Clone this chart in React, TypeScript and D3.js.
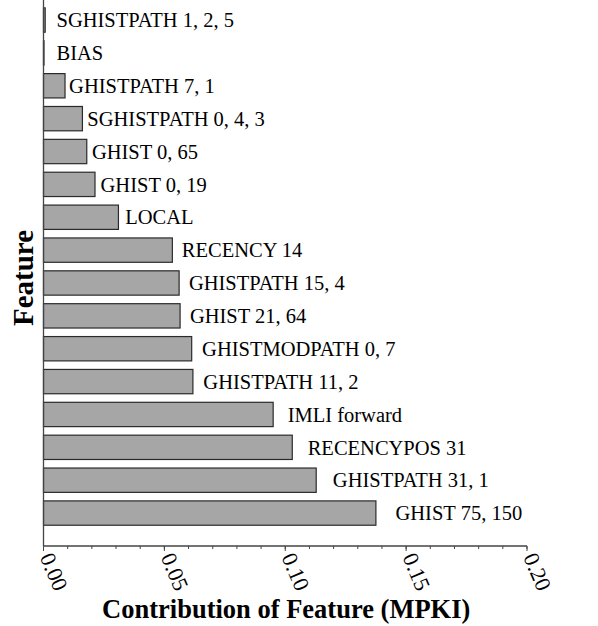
import React, { useEffect, useRef } from 'react';
import * as d3 from 'd3';

const WIDTH = 598;
const HEIGHT = 626;

// top to bottom
const features = [
  'SGHISTPATH 1, 2, 5',
  'BIAS',
  'GHISTPATH 7, 1',
  'SGHISTPATH 0, 4, 3',
  'GHIST 0, 65',
  'GHIST 0, 19',
  'LOCAL',
  'RECENCY 14',
  'GHISTPATH 15, 4',
  'GHIST 21, 64',
  'GHISTMODPATH 0, 7',
  'GHISTPATH 11, 2',
  'IMLI forward',
  'RECENCYPOS 31',
  'GHISTPATH 31, 1',
  'GHIST 75, 150',
];
const mpki = [
  0.0007, 0.0002, 0.0089, 0.0161, 0.0179, 0.0213, 0.031, 0.0533,
  0.0561, 0.0565, 0.0613, 0.0618, 0.095, 0.1029, 0.1128, 0.1375,
];
const majorTicks = [0, 0.05, 0.1, 0.15, 0.2];
const minorTicks = d3.range(0, 0.2001, 0.01);

const FONT = '"Liberation Serif", "Times New Roman", serif';

export default function App() {
  const ref = useRef<SVGSVGElement>(null);

  useEffect(() => {
    if (!ref.current) return;
    const svg = d3.select(ref.current);
    svg.selectAll('*').remove();

    const axisY = 546;
    const x = d3.scaleLinear().domain([0, 0.2]).range([43.5, 527]);
    const y = d3
      .scaleBand<string>()
      .domain(features)
      .range([3.6, 529.5])
      .paddingInner(0.26)
      .paddingOuter(0.13);

    const rows = features.map((f, i) => ({ name: f, value: mpki[i] }));

    // bars
    svg
      .append('g')
      .selectAll('rect')
      .data(rows)
      .enter()
      .append('rect')
      .attr('x', x(0))
      .attr('y', (d) => y(d.name)!)
      .attr('width', (d) => x(d.value) - x(0))
      .attr('height', y.bandwidth())
      .attr('fill', '#a6a6a6')
      .attr('stroke', '#2a2a2a')
      .attr('stroke-width', 1.2);

    // bar labels, a bit further out for the longer bars
    svg
      .append('g')
      .selectAll('text')
      .data(rows)
      .enter()
      .append('text')
      .attr('x', (d) => Math.max(x(d.value * 1.05) + 3, x(0) + 13))
      .attr('y', (d) => y(d.name)! + y.bandwidth() / 2)
      .attr('dy', '0.35em')
      .style('font-family', FONT)
      .style('font-size', '20.5px')
      .style('fill', '#000')
      .text((d) => d.name);

    // axes lines
    svg
      .append('line')
      .attr('x1', x(0))
      .attr('x2', x(0))
      .attr('y1', 0)
      .attr('y2', axisY)
      .attr('stroke', '#444')
      .attr('stroke-width', 1.3);
    svg
      .append('line')
      .attr('x1', x(0))
      .attr('x2', x(0.2))
      .attr('y1', axisY)
      .attr('y2', axisY)
      .attr('stroke', '#444')
      .attr('stroke-width', 1.3);

    // ticks
    svg
      .append('g')
      .selectAll('line')
      .data(minorTicks)
      .enter()
      .append('line')
      .attr('x1', (d) => x(d))
      .attr('x2', (d) => x(d))
      .attr('y1', axisY)
      .attr('y2', axisY + 3)
      .attr('stroke', '#444');
    svg
      .append('g')
      .selectAll('line')
      .data(majorTicks)
      .enter()
      .append('line')
      .attr('x1', (d) => x(d))
      .attr('x2', (d) => x(d))
      .attr('y1', axisY)
      .attr('y2', axisY + 5)
      .attr('stroke', '#444');

    // tick labels, rotated
    svg
      .append('g')
      .selectAll('text')
      .data(majorTicks)
      .enter()
      .append('text')
      .attr('transform', (d) => `translate(${x(d) - 4},${axisY + 11}) rotate(67)`)
      .style('font-family', FONT)
      .style('font-size', '22px')
      .style('fill', '#000')
      .text((d) => d3.format('.2f')(d));

    // axis titles
    svg
      .append('text')
      .attr('x', (x(0) + x(0.2)) / 2 + 1)
      .attr('y', 618)
      .attr('text-anchor', 'middle')
      .style('font-family', FONT)
      .style('font-size', '26.5px')
      .style('font-weight', 'bold')
      .text('Contribution of Feature (MPKI)');

    svg
      .append('text')
      .attr('transform', `translate(33, 278) rotate(-90)`)
      .attr('text-anchor', 'middle')
      .style('font-family', FONT)
      .style('font-size', '29px')
      .style('font-weight', 'bold')
      .text('Feature');
  }, []);

  return (
    <div style={{ position: 'absolute', left: 0, top: 0 }}>
      <svg ref={ref} width={WIDTH} height={HEIGHT} style={{ display: 'block', background: '#fff' }} />
    </div>
  );
}
